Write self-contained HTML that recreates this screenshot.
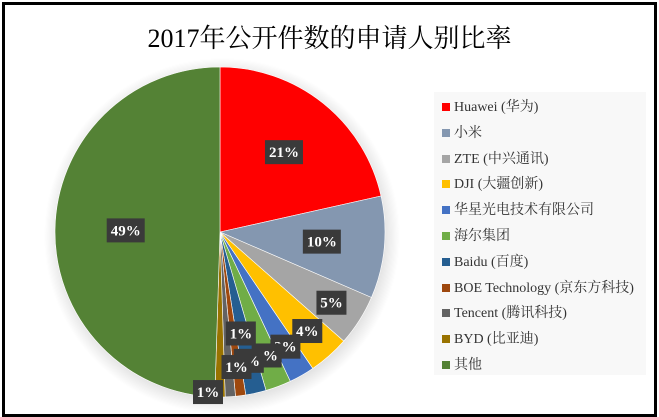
<!DOCTYPE html>
<html><head><meta charset="utf-8"><style>
body{margin:0;width:659px;height:417px;background:#fff;overflow:hidden}
#frame{position:absolute;left:2px;top:2px;width:649px;height:409px;border:3px solid #000;background:#fff}
#title{position:absolute;left:0;width:659px;top:18px;text-align:center;font-family:"Liberation Serif","Noto Serif CJK SC",serif;font-size:26px;color:#000}
#legend{position:absolute;left:434px;top:92px;width:212px;height:283px;background:#f8f8f8}
.li{position:absolute;left:8px;font-family:"Liberation Serif","Noto Serif CJK SC",serif;font-size:14px;color:#333;white-space:nowrap}
.sw{display:inline-block;width:8px;height:8px;margin-right:4px;vertical-align:0px}
</style></head><body>
<div id="frame"></div>
<div id="title">2017年公开件数的申请人别比率</div>
<svg id="pie" width="659" height="417" style="position:absolute;left:0;top:0">
<defs><radialGradient id="sh"><stop offset="0.85" stop-color="#000" stop-opacity="0.18"/><stop offset="1" stop-color="#000" stop-opacity="0"/></radialGradient></defs>
<circle cx="222" cy="236" r="178" fill="url(#sh)"/>
</svg>
<div id="legend"></div>
<script>
const categories=["Huawei (华为)","小米","ZTE (中兴通讯)","DJI (大疆创新)","华星光电技术有限公司","海尔集团","Baidu (百度)","BOE Technology (京东方科技)","Tencent (腾讯科技)","BYD (比亚迪)","其他"];
const values=[21.5,10,5,4,2.5,2.5,2,1,1,1,49.5];
const labels=["21%","10%","5%","4%","3%","3%","2%","1%","1%","1%","49%"];
const colors=["#ff0000","#8497b0","#a5a5a5","#ffc000","#4472c4","#70ad47","#255e91","#9e480e","#636363","#997300","#548235"];
const NS="http://www.w3.org/2000/svg";
const svg=document.getElementById('pie');
const cx=220,cy=232,R=165;
const total=values.reduce((a,b)=>a+b,0);
function pt(a,r){return [cx+r*Math.sin(a),cy-r*Math.cos(a)];}
let acc=0;
const labelG=[];
values.forEach((v,i)=>{
  const a0=acc/total*2*Math.PI;acc+=v;const a1=acc/total*2*Math.PI;
  const p0=pt(a0,R),p1=pt(a1,R);
  const path=document.createElementNS(NS,'path');
  path.setAttribute('d',`M${cx},${cy}L${p0[0]},${p0[1]}A${R},${R} 0 ${a1-a0>Math.PI?1:0} 1 ${p1[0]},${p1[1]}Z`);
  path.setAttribute('fill',colors[i]);
  path.setAttribute('stroke','#fff');path.setAttribute('stroke-width','0.6');
  
  
  svg.appendChild(path);
  const am=(a0+a1)/2;
  let rf=v>8?0.62:0.8;
  if(i===7)rf=0.62;if(i===8)rf=0.82;if(i===9)rf=0.97;
  const p=pt(am,R*rf);
  if(i>=7)p[0]+=(i===9?-12:8);
  labelG.push([p,labels[i]]);
});
labelG.forEach(([p,t],i)=>{
  const g=document.createElementNS(NS,'g');
  
  
  const w=t.length>2?38:30;
  const r=document.createElementNS(NS,'rect');
  r.setAttribute('x',p[0]-w/2);r.setAttribute('y',p[1]-12);r.setAttribute('width',w);r.setAttribute('height',24);
  r.setAttribute('fill','#3a3a3a');
  g.appendChild(r);
  const tx=document.createElementNS(NS,'text');
  tx.setAttribute('x',p[0]);tx.setAttribute('y',p[1]+5);tx.setAttribute('text-anchor','middle');
  tx.setAttribute('font-family','Liberation Serif, serif');tx.setAttribute('font-weight','bold');tx.setAttribute('font-size','15');tx.setAttribute('fill','#fff');
  tx.textContent=t;g.appendChild(tx);svg.appendChild(g);
});
const lg=document.getElementById('legend');
categories.forEach((c,i)=>{
  const d=document.createElement('div');d.className='li';
  d.style.top=(4+i*25.8)+'px';
  
  
  d.innerHTML=`<span class="sw" style="background:${colors[i]}"></span>${c}`;
  lg.appendChild(d);
});
</script>
</body></html>
